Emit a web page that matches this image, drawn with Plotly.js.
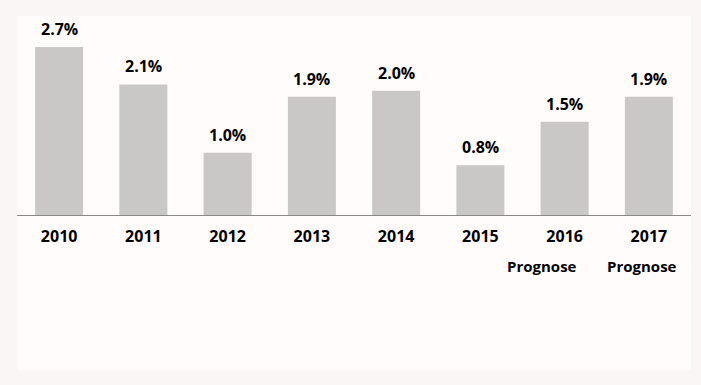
<!DOCTYPE html>
<html>
<head>
<meta charset="utf-8">
<script src="https://cdn.plot.ly/plotly-3.0.1.min.js"></script>
<style>html,body{margin:0;padding:0;background:#fbf6f6;}</style>
</head>
<body>
<div id="chart" style="width:701px;height:385px;"></div>
<script>
const years = ["2010", "2011", "2012", "2013", "2014", "2015", "2016", "2017"];
const values = [2.7, 2.1, 1.0, 1.9, 2.0, 0.8, 1.5, 1.9];
const labels = ["2.7%", "2.1%", "1.0%", "1.9%", "2.0%", "0.8%", "1.5%", "1.9%"];
const subLabels = ["", "", "", "", "", "", "Prognose", "Prognose"];

const FONT = "Open Sans, Segoe UI, sans-serif";
// horizontal offsets of the second label line as seen in the reference
const subShift = [0, 0, 0, 0, 0, 0, -23, -7];

const annotations = [];
years.forEach((y, i) => {
  annotations.push({
    x: i, y: values[i], xref: "x", yref: "y",
    text: "<b>" + labels[i] + "</b>", showarrow: false,
    yanchor: "bottom", yshift: 5,
    font: {family: FONT, size: 16, color: "#000000"}
  });
  if (subLabels[i]) {
    annotations.push({
      x: i, y: 0, xref: "x", yref: "paper",
      text: "<b>" + subLabels[i] + "</b>", showarrow: false,
      yanchor: "middle", yshift: -51, xshift: subShift[i],
      font: {family: FONT, size: 15, color: "#000000"}
    });
  }
});

Plotly.newPlot("chart", [{
  type: "bar",
  x: years,
  y: values,
  marker: {color: "#c9c8c6"},
  width: 0.57,
  hoverinfo: "none"
}], {
  width: 701, height: 385,
  margin: {l: 17, r: 10, t: 16, b: 170},
  paper_bgcolor: "#fbf6f6",
  plot_bgcolor: "rgba(0,0,0,0)",
  showlegend: false,
  xaxis: {
    type: "category",
    range: [-0.5, 7.5],
    showgrid: false, zeroline: false,
    showline: true, linecolor: "#898989", linewidth: 1,
    ticks: "", ticklabelstandoff: 7,
    tickfont: {family: FONT, size: 16, color: "#000", weight: "bold"}
  },
  yaxis: {
    range: [0, 3.2],
    visible: false, showgrid: false, zeroline: false
  },
  shapes: [{
    type: "rect", xref: "paper", yref: "paper",
    x0: 0, x1: 1, y0: -0.779, y1: 1,
    fillcolor: "#fffcfb", line: {width: 0}, layer: "below"
  }],
  annotations: annotations
}, {displayModeBar: false});
</script>
</body>
</html>
